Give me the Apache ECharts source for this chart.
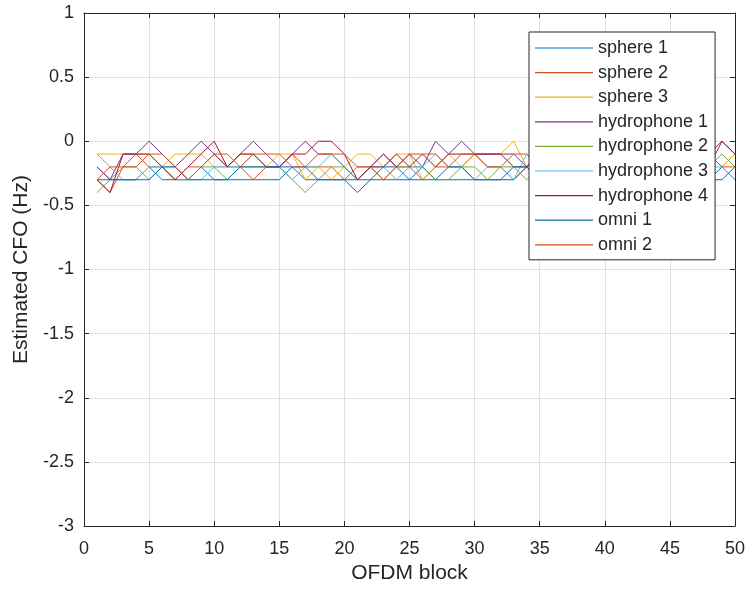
<!DOCTYPE html>
<html>
<head>
<meta charset="utf-8">
<script src="https://cdn.jsdelivr.net/npm/echarts@6/dist/echarts.min.js"></script>
<style>html,body{margin:0;padding:0;background:#fff;}#c{width:748px;height:592px;}</style>
</head>
<body>
<div id="c"></div>
<script>
const xTicks = [0,5,10,15,20,25,30,35,40,45,50];
const yTicks = [-3,-2.5,-2,-1.5,-1,-0.5,0,0.5,1];
const blocks = Array.from({length:50},(_,i)=>i+1);
const seriesNames = ['sphere 1','sphere 2','sphere 3','hydrophone 1','hydrophone 2','hydrophone 3','hydrophone 4','omni 1','omni 2'];

const sphere1 = [-0.2,-0.3,-0.3,-0.3,-0.2,-0.3,-0.3,-0.3,-0.2,-0.3,
 -0.3,-0.3,-0.3,-0.3,-0.3,-0.2,-0.3,-0.3,-0.3,-0.3,
 -0.4,-0.3,-0.3,-0.3,-0.3,-0.2,-0.3,-0.3,-0.3,-0.3,
 -0.3,-0.3,-0.3,-0.2,-0.3,-0.3,-0.2,-0.3,-0.3,-0.3,
 -0.2,-0.3,-0.3,-0.3,-0.2,-0.3,-0.3,-0.3,-0.2,-0.3];
const sphere2 = [-0.3,-0.4,-0.2,-0.1,-0.2,-0.2,-0.3,-0.2,-0.2,-0.1,
 -0.2,-0.2,-0.3,-0.2,-0.2,-0.1,-0.2,-0.2,-0.2,-0.3,
 -0.2,-0.2,-0.1,-0.2,-0.2,-0.3,-0.2,-0.2,-0.2,-0.1,
 -0.2,-0.2,-0.3,-0.2,-0.1,-0.2,-0.2,-0.3,-0.2,-0.2,
 -0.1,-0.2,-0.2,-0.2,-0.3,-0.2,-0.2,-0.1,-0.2,-0.1];
const sphere3 = [-0.1,-0.1,-0.1,-0.1,-0.1,-0.2,-0.1,-0.1,-0.1,-0.2,
 -0.2,-0.1,-0.1,-0.2,-0.1,-0.1,-0.3,-0.2,-0.3,-0.2,
 -0.1,-0.1,-0.2,-0.1,-0.1,-0.3,-0.2,-0.1,-0.2,-0.1,
 -0.1,-0.1,0,-0.2,-0.1,-0.1,-0.2,-0.1,-0.1,-0.2,
 -0.1,-0.1,-0.2,-0.1,-0.1,-0.2,-0.1,-0.1,-0.2,-0.1];
const hydrophone1 = [-0.2,-0.3,-0.1,-0.1,0,-0.1,-0.2,-0.1,0,-0.1,
 -0.2,-0.1,0,-0.1,-0.2,-0.1,0,-0.1,-0.1,-0.2,
 -0.3,-0.2,-0.1,-0.2,-0.1,-0.2,0,-0.1,0,-0.1,
 -0.1,-0.1,-0.1,-0.2,-0.1,-0.2,-0.1,-0.1,-0.2,-0.1,
 -0.1,-0.2,-0.1,-0.1,-0.2,-0.1,-0.1,-0.2,0,-0.1];
const hydrophone2 = [-0.4,-0.3,-0.2,-0.2,-0.3,-0.2,-0.3,-0.3,-0.2,-0.2,
 -0.3,-0.2,-0.2,-0.2,-0.2,-0.3,-0.4,-0.3,-0.2,-0.2,
 -0.3,-0.2,-0.3,-0.2,-0.2,-0.2,-0.3,-0.3,-0.2,-0.2,
 -0.3,-0.2,-0.2,-0.3,-0.2,-0.2,-0.3,-0.2,-0.2,-0.3,
 -0.2,-0.2,-0.3,-0.2,-0.2,-0.3,-0.2,-0.2,-0.1,-0.2];
const hydrophone3 = [-0.1,-0.2,-0.3,-0.3,-0.2,-0.2,-0.2,-0.3,-0.3,-0.2,
 -0.2,-0.2,-0.1,-0.2,-0.2,-0.3,-0.2,-0.2,-0.1,-0.2,
 -0.3,-0.2,-0.2,-0.3,-0.2,-0.2,-0.1,-0.2,-0.2,-0.3,
 -0.2,-0.2,-0.3,-0.1,-0.2,-0.2,-0.3,-0.2,-0.2,-0.2,
 -0.3,-0.2,-0.2,-0.1,-0.2,-0.2,-0.3,-0.2,-0.2,-0.3];
const hydrophone4 = [-0.3,-0.4,-0.1,-0.1,-0.1,-0.2,-0.3,-0.2,-0.1,0,
 -0.2,-0.1,-0.1,-0.2,-0.2,-0.1,-0.1,0,0,-0.1,
 -0.3,-0.2,-0.2,-0.1,-0.2,-0.1,-0.2,-0.1,-0.1,-0.1,
 -0.1,-0.1,-0.2,-0.2,-0.1,-0.1,-0.2,-0.1,-0.1,-0.2,
 -0.1,-0.2,-0.1,-0.1,-0.2,-0.1,-0.2,-0.1,0,-0.1];
const omni1 = [-0.3,-0.3,-0.3,-0.3,-0.3,-0.2,-0.2,-0.3,-0.3,-0.3,
 -0.3,-0.2,-0.2,-0.2,-0.2,-0.2,-0.2,-0.3,-0.3,-0.3,
 -0.3,-0.3,-0.2,-0.2,-0.3,-0.3,-0.3,-0.2,-0.2,-0.3,
 -0.3,-0.3,-0.2,-0.2,-0.3,-0.3,-0.2,-0.2,-0.3,-0.3,
 -0.2,-0.3,-0.3,-0.2,-0.3,-0.3,-0.2,-0.3,-0.3,-0.2];
const omni2 = [-0.3,-0.2,-0.2,-0.2,-0.1,-0.1,-0.2,-0.3,-0.2,-0.1,
 -0.1,-0.2,-0.1,-0.1,-0.1,-0.2,-0.2,-0.1,-0.1,-0.1,
 -0.2,-0.2,-0.3,-0.2,-0.1,-0.1,-0.1,-0.2,-0.1,-0.1,
 -0.2,-0.2,-0.1,-0.1,-0.2,-0.2,-0.1,-0.2,-0.2,-0.1,
 -0.2,-0.1,-0.2,-0.2,-0.1,-0.2,-0.2,-0.1,-0.2,-0.2];

const allValues = [sphere1,sphere2,sphere3,hydrophone1,hydrophone2,hydrophone3,hydrophone4,omni1,omni2];
const colors = ['#0072BD','#D95319','#EDB120','#7E2F8E','#77AC30','#4DBEEE','#A2142F','#0072BD','#D95319'];

const FONT = 'Liberation Sans, Arial, Helvetica, sans-serif';
const AX = '#262626';

const chart = echarts.init(document.getElementById('c'), null, {renderer:'canvas'});
chart.setOption({
  animation:false,
  backgroundColor:'#fff',
  color: colors,
  textStyle:{fontFamily:FONT},
  grid:{left:84, right:12, top:13, bottom:66, containLabel:false},
  xAxis:[{
    type:'value', min:xTicks[0], max:xTicks[xTicks.length-1], interval:5,
    name:'OFDM block', nameLocation:'middle', nameGap:30,
    nameTextStyle:{fontSize:21, color:AX, fontFamily:FONT},
    axisLine:{show:true, onZero:false, lineStyle:{color:AX, width:1}},
    axisTick:{show:true, inside:true, length:5, lineStyle:{color:AX}},
    axisLabel:{fontSize:18, color:AX, margin:14, fontFamily:FONT},
    splitLine:{show:true, lineStyle:{color:'#e0e0e0', width:1}}
  },{
    type:'value', position:'top', min:xTicks[0], max:xTicks[xTicks.length-1], interval:5,
    axisLine:{show:true, onZero:false, lineStyle:{color:AX, width:1}},
    axisTick:{show:true, inside:true, length:5, lineStyle:{color:AX}},
    axisLabel:{show:false}, splitLine:{show:false}
  }],
  yAxis:[{
    type:'value', min:yTicks[0], max:yTicks[yTicks.length-1], interval:0.5,
    name:'Estimated CFO (Hz)', nameLocation:'middle', nameGap:51, nameRotate:90,
    nameTextStyle:{fontSize:21, color:AX, fontFamily:FONT},
    axisLine:{show:true, onZero:false, lineStyle:{color:AX, width:1}},
    axisTick:{show:true, inside:true, length:5, lineStyle:{color:AX}},
    axisLabel:{fontSize:18, color:AX, margin:10, fontFamily:FONT},
    splitLine:{show:true, lineStyle:{color:'#e0e0e0', width:1}}
  },{
    type:'value', position:'right', min:yTicks[0], max:yTicks[yTicks.length-1], interval:0.5,
    axisLine:{show:true, onZero:false, lineStyle:{color:AX, width:1}},
    axisTick:{show:true, inside:true, length:5, lineStyle:{color:AX}},
    axisLabel:{show:false}, splitLine:{show:false}
  }],
  legend:{
    orient:'vertical', left:529, top:32,
    backgroundColor:'#fff', borderColor:AX, borderWidth:1, borderRadius:0,
    padding:[7,7,6,6], itemWidth:58, itemHeight:18, itemGap:6.6,
    icon:'path://M0,0 L58,0 L58,1.2 L0,1.2 Z',
    textStyle:{fontSize:18, color:AX, fontFamily:FONT, lineHeight:18},
    data: seriesNames
  },
  series: seriesNames.map((n,i)=>({
    name:n, type:'line', xAxisIndex:0, yAxisIndex:0,
    symbol:'none', showSymbol:false,
    lineStyle:{width:1, color:colors[i]}, itemStyle:{color:colors[i]},
    data: blocks.map((b,j)=>[b, allValues[i][j]])
  }))
});
</script>
</body>
</html>
